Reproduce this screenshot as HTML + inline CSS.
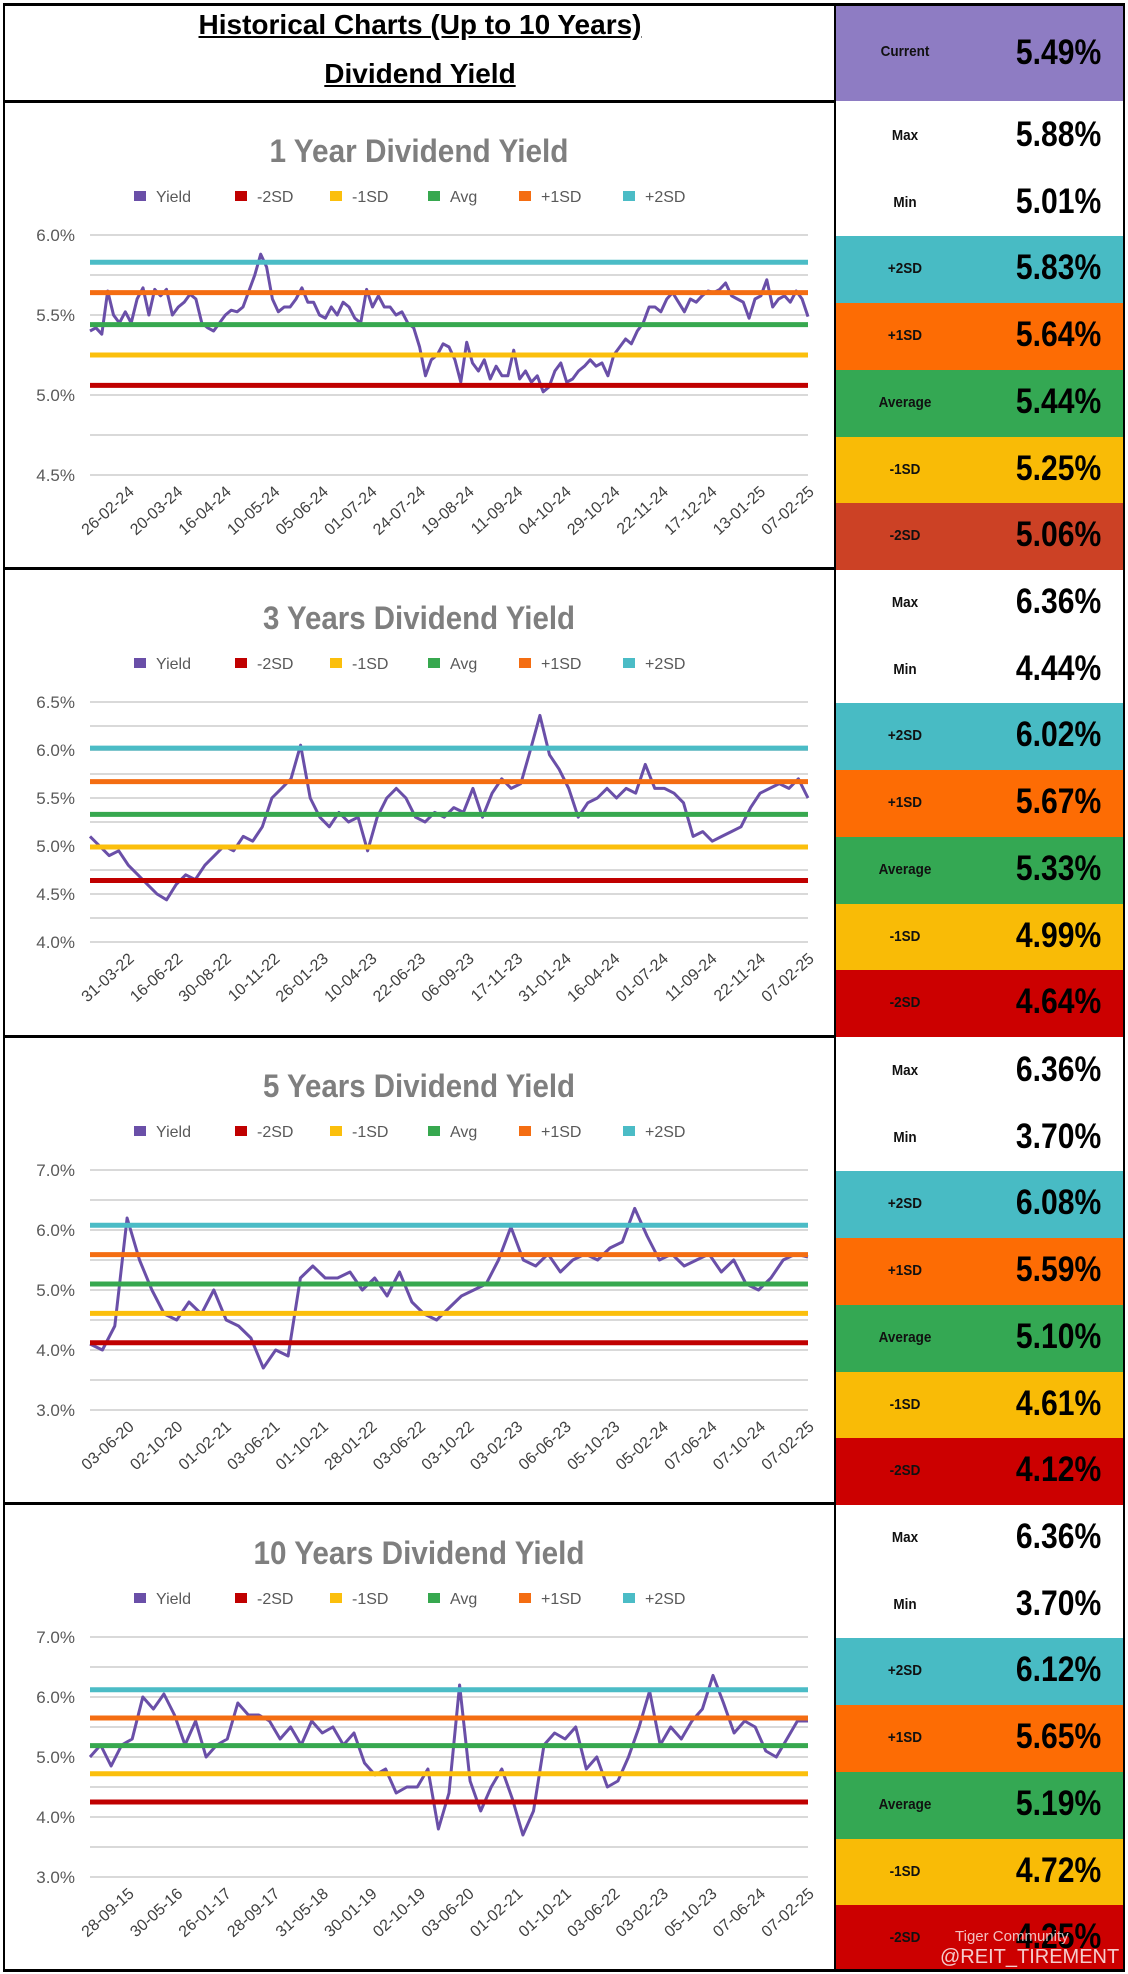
<!DOCTYPE html>
<html><head><meta charset="utf-8">
<style>
body{margin:0;background:#fff;}
#page{position:relative;width:1128px;height:1974px;background:#fff;font-family:"Liberation Sans",sans-serif;overflow:hidden;}
.hl{position:absolute;background:#000;}
.cell{position:absolute;left:836px;width:287px;}
.lab{position:absolute;left:30px;width:78px;text-align:center;font-size:15px;font-weight:bold;color:#111;transform:scaleX(0.9);}
.val{position:absolute;right:22px;font-size:35px;font-weight:bold;color:#000;transform:scaleX(0.86);transform-origin:right center;}
svg text{font-family:"Liberation Sans",sans-serif;}
</style></head>
<body>
<div id="page">
  <div style="position:absolute;left:5px;width:830px;top:9px;text-align:center;font-size:28px;font-weight:bold;text-decoration:underline;">Historical Charts (Up to 10 Years)</div>
  <div style="position:absolute;left:5px;width:830px;top:58px;text-align:center;font-size:28px;font-weight:bold;text-decoration:underline;">Dividend Yield</div>
  <div class="cell" style="top:5px;height:96px;background:#8e7cc3;">
    <div class="lab" style="top:38px;">Current</div><div class="val" style="top:28px;">5.49%</div>
  </div>
  <div id="charts"></div>
  <div id="cells"></div>
  <div style="position:absolute;left:955px;top:1928px;font-size:15px;color:rgba(255,255,255,0.75);">Tiger Community</div>
  <div style="position:absolute;left:940px;top:1946px;font-size:20px;color:rgba(255,255,255,0.8);">@REIT_TIREMENT</div>
  <div class="hl" style="left:3px;top:3px;width:1122px;height:3px;"></div>
  <div class="hl" style="left:3px;top:1969px;width:1122px;height:3px;"></div>
  <div class="hl" style="left:3px;top:3px;width:2px;height:1969px;"></div>
  <div class="hl" style="left:1123px;top:3px;width:2px;height:1969px;"></div>
  <div class="hl" style="left:834px;top:3px;width:2px;height:1969px;"></div>
  <div class="hl" style="left:3px;top:100px;width:832px;height:3px;"></div>
  <div class="hl" style="left:3px;top:567px;width:832px;height:3px;"></div>
  <div class="hl" style="left:3px;top:1035px;width:832px;height:3px;"></div>
  <div class="hl" style="left:3px;top:1502px;width:832px;height:3px;"></div>
</div>
<script>
// ---- chart data ----
const titles = ["1 Year Dividend Yield","3 Years Dividend Yield","5 Years Dividend Yield","10 Years Dividend Yield"];
const yMin = [4.5, 4.0, 3.0, 3.0];
const yMax = [6.0, 6.5, 7.0, 7.0];
const yStep = [0.25, 0.25, 0.5, 0.5];
const yLabelStep = [0.5, 0.5, 1.0, 1.0];
const sdLevels1 = [5.06, 5.25, 5.44, 5.64, 5.83];
const sdLevels2 = [4.64, 4.99, 5.33, 5.67, 6.02];
const sdLevels3 = [4.12, 4.61, 5.10, 5.59, 6.08];
const sdLevels4 = [4.25, 4.72, 5.19, 5.65, 6.12];
const xLabels1 = ["26-02-24","20-03-24","16-04-24","10-05-24","05-06-24","01-07-24","24-07-24","19-08-24","11-09-24","04-10-24","29-10-24","22-11-24","17-12-24","13-01-25","07-02-25"];
const xLabels2 = ["31-03-22","16-06-22","30-08-22","10-11-22","26-01-23","10-04-23","22-06-23","06-09-23","17-11-23","31-01-24","16-04-24","01-07-24","11-09-24","22-11-24","07-02-25"];
const xLabels3 = ["03-06-20","02-10-20","01-02-21","03-06-21","01-10-21","28-01-22","03-06-22","03-10-22","03-02-23","06-06-23","05-10-23","05-02-24","07-06-24","07-10-24","07-02-25"];
const xLabels4 = ["28-09-15","30-05-16","26-01-17","28-09-17","31-05-18","30-01-19","02-10-19","03-06-20","01-02-21","01-10-21","03-06-22","03-02-23","05-10-23","07-06-24","07-02-25"];
const yield1 = [5.40,5.42,5.38,5.65,5.50,5.45,5.52,5.45,5.60,5.67,5.50,5.66,5.62,5.66,5.50,5.55,5.58,5.63,5.60,5.45,5.42,5.40,5.45,5.50,5.53,5.52,5.55,5.65,5.75,5.88,5.80,5.60,5.52,5.55,5.55,5.60,5.67,5.58,5.58,5.50,5.48,5.55,5.50,5.58,5.55,5.48,5.45,5.66,5.55,5.62,5.55,5.55,5.50,5.52,5.45,5.42,5.30,5.12,5.22,5.25,5.32,5.30,5.22,5.08,5.33,5.20,5.15,5.22,5.10,5.18,5.12,5.12,5.28,5.10,5.15,5.08,5.12,5.02,5.05,5.15,5.20,5.08,5.10,5.15,5.18,5.22,5.18,5.20,5.12,5.25,5.30,5.35,5.32,5.40,5.45,5.55,5.55,5.52,5.60,5.64,5.58,5.52,5.60,5.58,5.62,5.65,5.64,5.66,5.70,5.62,5.60,5.58,5.48,5.60,5.62,5.72,5.55,5.60,5.62,5.58,5.65,5.60,5.49];
const yield2 = [5.10,5.00,4.90,4.95,4.80,4.70,4.60,4.50,4.44,4.60,4.70,4.65,4.80,4.90,5.00,4.95,5.10,5.05,5.20,5.50,5.60,5.70,6.05,5.50,5.30,5.20,5.35,5.25,5.30,4.95,5.30,5.50,5.60,5.50,5.30,5.25,5.35,5.30,5.40,5.35,5.60,5.30,5.55,5.70,5.60,5.65,6.00,6.36,5.95,5.80,5.60,5.30,5.45,5.50,5.60,5.50,5.60,5.55,5.85,5.60,5.60,5.55,5.45,5.10,5.15,5.05,5.10,5.15,5.20,5.40,5.55,5.60,5.65,5.60,5.70,5.50];
const yield3 = [4.10,4.00,4.40,6.20,5.50,5.00,4.60,4.50,4.80,4.60,5.00,4.50,4.40,4.20,3.70,4.00,3.90,5.20,5.40,5.20,5.20,5.30,5.00,5.20,4.90,5.30,4.80,4.60,4.50,4.70,4.90,5.00,5.10,5.50,6.05,5.50,5.40,5.60,5.30,5.50,5.60,5.50,5.70,5.80,6.36,5.90,5.50,5.60,5.40,5.50,5.60,5.30,5.50,5.10,5.00,5.20,5.50,5.60,5.55];
const yield4 = [5.00,5.20,4.85,5.20,5.30,6.00,5.80,6.05,5.70,5.20,5.60,5.00,5.20,5.30,5.90,5.70,5.70,5.60,5.30,5.50,5.20,5.60,5.40,5.50,5.20,5.40,4.90,4.70,4.80,4.40,4.50,4.50,4.80,3.80,4.40,6.20,4.60,4.10,4.50,4.80,4.30,3.70,4.10,5.20,5.40,5.30,5.50,4.80,5.00,4.50,4.60,5.00,5.50,6.10,5.20,5.50,5.30,5.60,5.80,6.36,5.90,5.40,5.60,5.50,5.10,5.00,5.30,5.60,5.60];
const maxVals = ["5.88%","6.36%","6.36%","6.36%"];
const minVals = ["5.01%","4.44%","3.70%","3.70%"];
const legendNames = ["Yield","-2SD","-1SD","Avg","+1SD","+2SD"];

const yields=[yield1,yield2,yield3,yield4];
const sds=[sdLevels1,sdLevels2,sdLevels3,sdLevels4];
const xls=[xLabels1,xLabels2,xLabels3,xLabels4];
const titleW=[299,312,312,331];
const sdColors=["#c00000","#fbbf0c","#37a84f","#f46d12","#4bbcc6"];
const legColors=["#6a4fa8"].concat(sdColors);
const secTop=[101,568,1036,1503];
const NS="http://www.w3.org/2000/svg";
const charts=document.getElementById('charts');
const cells=document.getElementById('cells');
function mk(tag,attrs,parent){const e=document.createElementNS(NS,tag);for(const k in attrs)e.setAttribute(k,attrs[k]);parent.appendChild(e);return e;}

for(let c=0;c<4;c++){
  const svg=document.createElementNS(NS,'svg');
  svg.setAttribute('width',830);svg.setAttribute('height',467);
  svg.style.position='absolute';svg.style.left='5px';svg.style.top=secTop[c]+'px';
  
  
  charts.appendChild(svg);
  const X0=85,X1=803,Y0=134,Y1=374;
  const ys=v=>Y0+(yMax[c]-v)/(yMax[c]-yMin[c])*(Y1-Y0);
  const data=yields[c];
  const xs=i=>X0+i/(data.length-1)*(X1-X0);
  const t=mk('text',{x:414,y:61,'text-anchor':'middle','font-size':32,'font-weight':'bold',fill:'#7f7f7f',textLength:titleW[c],lengthAdjust:'spacingAndGlyphs'},svg);
  t.textContent=titles[c];
  
  
  const legX=[129,230,325,423,514,618];
  for(let i=0;i<6;i++){
    const g=mk('g',{},svg);
    
    
    mk('rect',{x:legX[i],y:90,width:12,height:10,fill:legColors[i]},g);
    const lt=mk('text',{x:legX[i]+22,y:101,'font-size':16,fill:'#595959'},g);
    lt.textContent=legendNames[i];
  }
  for(let v=yMin[c];v<=yMax[c]+1e-9;v+=yStep[c]){
    const gl=mk('line',{x1:X0,x2:X1,y1:ys(v),y2:ys(v),stroke:'#d9d9d9','stroke-width':2},svg);
    
    
    const r=Math.round((v-yMin[c])/yLabelStep[c]*1000)/1000;
    if(Math.abs(r-Math.round(r))<1e-6){
      const yt=mk('text',{x:70,y:ys(v)+6,'text-anchor':'end','font-size':17,fill:'#595959'},svg);
      yt.textContent=v.toFixed(1)+'%';
      
      
    }
  }
  const lx=xls[c];
  for(let i=0;i<lx.length;i++){
    const x=130+i*(810-130)/(lx.length-1);
    const xt=mk('text',{x:x,y:392,'text-anchor':'end','font-size':16,fill:'#404040',transform:'rotate(-42 '+x+' 392)'},svg);
    xt.textContent=lx[i];
    
    
  }
  let d='';
  data.forEach((v,i)=>{d+=(i?'L':'M')+xs(i).toFixed(1)+' '+ys(v).toFixed(1)+' ';});
  const p=mk('path',{d:d,fill:'none',stroke:'#6a4fa8','stroke-width':3,'stroke-linejoin':'round'},svg);
  
  
  sds[c].forEach((v,i)=>{
    const l=mk('line',{x1:X0,x2:X1,y1:ys(v),y2:ys(v),stroke:sdColors[i],'stroke-width':5},svg);
    
    
  });
  const rowH=467/7;
  const labels=["Max","Min","+2SD","+1SD","Average","-1SD","-2SD"];
  const bgs=["#ffffff","#ffffff","#48bbc4","#fd6c04","#34a853","#f9bb06",c==0?"#cc4125":"#cc0000"];
  const vals=[maxVals[c],minVals[c]].concat(sds[c].slice().reverse().map(v=>v.toFixed(2)+'%'));
  for(let r=0;r<7;r++){
    const d=document.createElement('div');
    d.className='cell';
    d.style.top=(secTop[c]+2+r*rowH)+'px';
    d.style.height=(rowH+0.5)+'px';
    d.style.background=bgs[r];
    
    
    d.innerHTML='<div class="lab" style="top:24px;">'+labels[r]+'</div><div class="val" style="top:12px;">'+vals[r]+'</div>';
    cells.appendChild(d);
  }
}
</script>
</body></html>
